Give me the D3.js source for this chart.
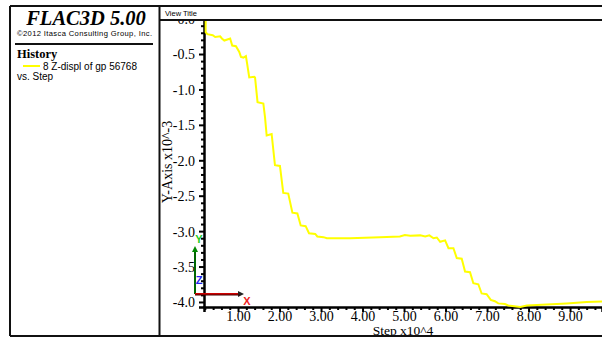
<!DOCTYPE html>
<html>
<head>
  <meta charset="utf-8">
  <script src="https://d3js.org/d3.v7.min.js"></script>
  <style type="text/css">
    body { margin: 0; background: #fff; }
    svg { display: block; }
    .tick text { font-family: "Liberation Serif", serif; font-size: 14px; fill: #000; }
  </style>
</head>
<body>
  <div id="chart"></div>

  <script type="text/javascript">
    // history 8: Z-displ of gp 56768 vs. step (step x10^4, displ x10^-3)
    var steps = [0.22, 0.22, 0.26, 0.39, 0.45, 0.57, 0.61, 0.67, 0.81, 0.86, 0.95, 1.03, 1.07, 1.13, 1.19,
      1.22, 1.27, 1.39, 1.41, 1.47, 1.61, 1.65, 1.69, 1.81, 1.89, 2.01, 2.09, 2.21, 2.31, 2.43,
      2.51, 2.63, 2.71, 2.86, 2.91, 3.06, 3.14, 3.38, 3.70, 4.42, 4.90, 5.02, 5.15, 5.39, 5.51,
      5.61, 5.71, 5.79, 5.87, 5.99, 6.07, 6.19, 6.27, 6.39, 6.47, 6.59, 6.67, 6.79, 6.87, 6.99,
      7.09, 7.19, 7.27, 7.43, 7.51, 7.80, 7.96, 8.44, 8.92, 9.40, 9.77];
    var zdisp = [0.02, -0.19, -0.22, -0.235, -0.26, -0.25, -0.28, -0.31, -0.28, -0.38, -0.39, -0.47, -0.54, -0.55, -0.53,
      -0.64, -0.83, -0.82, -0.83, -1.18, -1.20, -1.39, -1.65, -1.63, -2.07, -2.08, -2.46, -2.47, -2.74, -2.75,
      -2.92, -2.93, -3.03, -3.04, -3.075, -3.085, -3.10, -3.10, -3.10, -3.085, -3.075, -3.055, -3.065, -3.06, -3.075,
      -3.06, -3.10, -3.09, -3.15, -3.13, -3.24, -3.24, -3.38, -3.39, -3.57, -3.58, -3.735, -3.75, -3.88, -3.89,
      -3.97, -3.99, -4.02, -4.03, -4.05, -4.07, -4.05, -4.035, -4.02, -4.00, -3.995];
    var xTicks = [1, 2, 3, 4, 5, 6, 7, 8, 9];
    var yTicks = [0, -0.5, -1.0, -1.5, -2.0, -2.5, -3.0, -3.5, -4.0];

    var W = 602, H = 342;
    var svg = d3.select('#chart').append('svg').attr('width', W).attr('height', H);

    var x = d3.scaleLinear().domain([0.18, 9.77]).range([204, 602]);
    var y = d3.scaleLinear().domain([-4.071, 0]).range([307, 18.6]);

    // minor ticks
    var xMinor = d3.range(0.2, 9.8, 0.2).filter(function(v) { return Math.abs(v - Math.round(v)) > 0.01; });
    var yMinor = d3.range(0, -4.05, -0.1).filter(function(v) { return Math.abs(v * 2 - Math.round(v * 2)) > 0.01; });

    svg.append('g').attr('transform', 'translate(0,307)')
      .call(d3.axisBottom(x).tickValues(xMinor).tickSize(3).tickFormat(''))
      .call(function(g) { g.select('.domain').remove(); g.selectAll('line').attr('stroke-width', 2); });
    svg.append('g').attr('transform', 'translate(204,0)')
      .call(d3.axisLeft(y).tickValues(yMinor).tickSize(3).tickFormat(''))
      .call(function(g) { g.select('.domain').remove(); g.selectAll('line').attr('stroke-width', 2); });

    var xAxis = svg.append('g').attr('transform', 'translate(0,307)')
      .call(d3.axisBottom(x).tickValues(xTicks).tickSize(5).tickPadding(-1).tickFormat(d3.format('.2f')));
    var yAxis = svg.append('g').attr('transform', 'translate(204,0)')
      .call(d3.axisLeft(y).tickValues(yTicks).tickSize(5).tickPadding(4).tickFormat(function(d) { return d.toFixed(1).replace('-0.0', '0.0'); }));
    [xAxis, yAxis].forEach(function(g) {
      g.selectAll('line').attr('stroke-width', 2);
      g.select('.domain').attr('stroke-width', 2.5).attr('stroke', '#000');
    });
    yAxis.selectAll('text').attr('dy', '0.35em');

    // curve
    var line = d3.line().x(function(d, i) { return x(steps[i]); }).y(function(d) { return y(d); });
    svg.append('path').datum(zdisp)
      .attr('d', line)
      .attr('fill', 'none')
      .attr('stroke', '#ffff00')
      .attr('stroke-width', 2);

    // axis titles
    svg.append('text').attr('x', 403).attr('y', 334.5)
      .attr('text-anchor', 'middle')
      .style('font-family', '"Liberation Serif", serif').style('font-size', '13.5px')
      .text('Step x10^4');
    svg.append('text').attr('transform', 'translate(172,162) rotate(-90)')
      .attr('text-anchor', 'middle')
      .style('font-family', '"Liberation Serif", serif').style('font-size', '14px')
      .text('Y-Axis x10^-3');

    // axis triad
    var triad = svg.append('g');
    triad.append('line').attr('x1', 195).attr('y1', 294).attr('x2', 195).attr('y2', 250)
      .attr('stroke', '#006600').attr('stroke-width', 2);
    triad.append('path').attr('d', 'M192,252 L195,246 L198,252 Z').attr('fill', '#008800');
    triad.append('line').attr('x1', 195).attr('y1', 294).attr('x2', 240).attr('y2', 294)
      .attr('stroke', '#cc0000').attr('stroke-width', 2);
    triad.append('path').attr('d', 'M238,291 L244,294 L238,297 Z').attr('fill', '#222');
    triad.append('line').attr('x1', 195).attr('y1', 295).attr('x2', 240).attr('y2', 295)
      .attr('stroke', '#400').attr('stroke-width', 1);
    triad.append('text').attr('x', 199).attr('y', 243).attr('text-anchor', 'middle')
      .style('font-family', 'Liberation Sans, sans-serif').style('font-size', '11px').style('font-weight', 'bold')
      .attr('fill', '#22cc22').text('Y');
    triad.append('text').attr('x', 199).attr('y', 284).attr('text-anchor', 'middle')
      .style('font-family', 'Liberation Sans, sans-serif').style('font-size', '11px').style('font-weight', 'bold')
      .attr('fill', '#2222ee').text('Z');
    triad.append('text').attr('x', 247).attr('y', 305).attr('text-anchor', 'middle')
      .style('font-family', 'Liberation Sans, sans-serif').style('font-size', '11px').style('font-weight', 'bold')
      .attr('fill', '#ee2222').text('X');

    // frame and header
    svg.append('rect').attr('x', 160).attr('y', 0).attr('width', W - 160).attr('height', 21).attr('fill', '#fff');
    svg.append('rect').attr('x', 0).attr('y', 0).attr('width', 159).attr('height', H).attr('fill', '#fff');
    svg.append('rect').attr('x', 0).attr('y', 336).attr('width', W).attr('height', 6).attr('fill', '#fff');

    var frame = svg.append('g').attr('stroke', '#111').attr('stroke-width', 2).attr('fill', 'none');
    frame.append('line').attr('x1', 10).attr('y1', 6).attr('x2', W).attr('y2', 6);
    frame.append('line').attr('x1', 159).attr('y1', 20).attr('x2', W).attr('y2', 20);
    frame.append('line').attr('x1', 10).attr('y1', 336).attr('x2', W).attr('y2', 336);
    frame.append('line').attr('x1', 10).attr('y1', 6).attr('x2', 10).attr('y2', 336);
    frame.append('line').attr('x1', 159.5).attr('y1', 6).attr('x2', 159.5).attr('y2', 336);
    frame.append('line').attr('x1', 15).attr('y1', 44).attr('x2', 153).attr('y2', 44);

    svg.append('text').attr('x', 165).attr('y', 16)
      .style('font-family', 'Liberation Sans, sans-serif').style('font-size', '7.5px')
      .text('View Title');

    // left panel
    svg.append('text').attr('x', 86).attr('y', 25).attr('text-anchor', 'middle')
      .style('font-family', '"Liberation Serif", serif').style('font-size', '20.5px')
      .style('font-weight', 'bold').style('font-style', 'italic')
      .text('FLAC3D 5.00');
    svg.append('text').attr('x', 17).attr('y', 36)
      .style('font-family', 'Liberation Sans, sans-serif').style('font-size', '7.6px')
      .attr('textLength', 135)
      .text('\u00a92012 Itasca Consulting Group, Inc.');
    svg.append('text').attr('x', 17).attr('y', 58)
      .style('font-family', '"Liberation Serif", serif').style('font-size', '12.5px').style('font-weight', 'bold')
      .text('History');
    svg.append('line').attr('x1', 23).attr('y1', 66).attr('x2', 40).attr('y2', 66)
      .attr('stroke', '#ffff00').attr('stroke-width', 2);
    svg.append('text').attr('x', 43).attr('y', 70)
      .style('font-family', 'Liberation Sans, sans-serif').style('font-size', '10px')
      .text('8 Z-displ of gp 56768');
    svg.append('text').attr('x', 17).attr('y', 80)
      .style('font-family', 'Liberation Sans, sans-serif').style('font-size', '10px')
      .text('vs. Step');
  </script>
</body>
</html>
